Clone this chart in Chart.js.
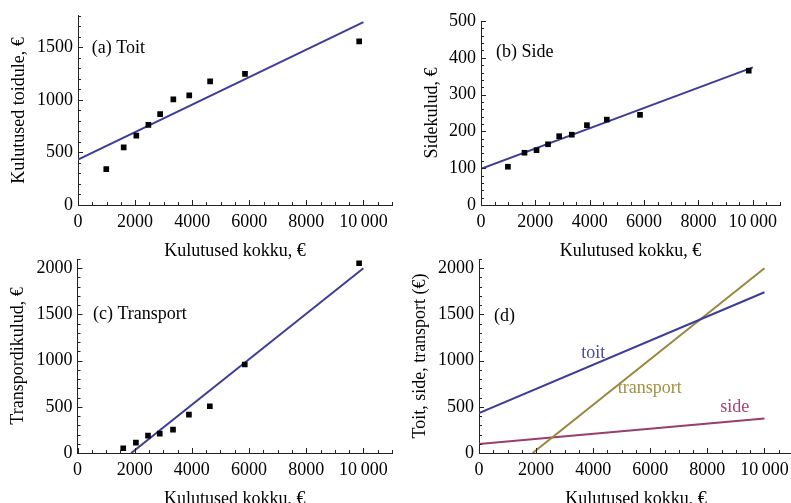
<!DOCTYPE html>
<html>
<head>
<meta charset="utf-8">
<script src="https://cdn.jsdelivr.net/npm/chart.js@4/dist/chart.umd.min.js"></script>
<style>
    html, body { margin: 0; padding: 0; background: #fff; overflow: hidden; width: 791px; height: 503px; }
    canvas { position: absolute; left: 0; top: 0; }
</style>
</head>
<body>
<canvas id="chartToit" width="800" height="520"></canvas>
<canvas id="chartSide" width="800" height="520"></canvas>
<canvas id="chartTransport" width="800" height="520"></canvas>
<canvas id="chartAll" width="800" height="520"></canvas>
<script>
// Leibkondade kulutused (€)

const totalSpend = [990, 1600, 2043, 2466, 2877, 3340, 3897, 4628, 5850, 9850];
const foodSpend = [342, 548, 660, 762, 865, 1005, 1043, 1176, 1248, 1556];
const sideSpend = [104, 142, 149, 165, 187, 191, 217, 232, 245, 365];
const transportSpend = [null, 51, 112, 188, 210, 253, 416, 506, 958, 2054];

// regression line end points
const fitX = [0, 10000];
const foodFit = [433, 1740];
const sideFit = [98, 374];
const transportFitX = [1880, 10000];
const transportFit = [0, 2000];

// tick labels
const xTicks = [0, 2000, 4000, 6000, 8000, 10000];
const foodTicks = [0, 500, 1000, 1500];
const sideTicks = [0, 100, 200, 300, 400, 500];
const transportTicks = [0, 500, 1000, 1500, 2000];

const FONT = "'Liberation Serif', 'Times New Roman', serif";
const BLUE = "#3d3d99";
const PURPLE = "#993d6b";
const OLIVE = "#99873d";

const CANVAS_W = 800;
const CANVAS_H = 520;

// ====================== HELPERS ======================

function points(xs, ys) {
    return xs.map((x, i) => ({ x: x, y: ys[i] })).filter(p => p.y !== null);
}

function tickLabel(v) {
    return v === 10000 ? "10\u2009000" : String(v);
}

// inward tick marks like Mathematica frames
const inwardTicks = {
    id: "inwardTicks",
    afterDraw(chart, args, opts) {
        const ctx = chart.ctx;
        const xs = chart.scales.x;
        const ys = chart.scales.y;
        ctx.save();
        ctx.strokeStyle = "#222";
        ctx.lineWidth = 1;
        ctx.beginPath();
        for (let v = xs.min; v <= xs.max + 0.001; v += opts.xMinor) {
            const px = Math.round(xs.getPixelForValue(v)) + 0.5;
            const len = v % opts.xMajor === 0 ? 5 : 3;
            ctx.moveTo(px, ys.bottom);
            ctx.lineTo(px, ys.bottom - len);
        }
        for (let v = ys.min; v <= ys.max + 0.001; v += opts.yMinor) {
            const py = Math.round(ys.getPixelForValue(v)) + 0.5;
            const len = v % opts.yMajor === 0 ? 5 : 3;
            ctx.moveTo(xs.left, py);
            ctx.lineTo(xs.left + len, py);
        }
        ctx.stroke();
        ctx.restore();
    }
};

// text labels placed in data coordinates
const textLabels = {
    id: "textLabels",
    afterDraw(chart, args, opts) {
        const ctx = chart.ctx;
        ctx.save();
        ctx.font = "18px " + FONT;
        ctx.textBaseline = "middle";
        (opts.items || []).forEach(item => {
            ctx.fillStyle = item.color || "#000";
            ctx.textAlign = item.align || "left";
            ctx.fillText(item.text,
                chart.scales.x.getPixelForValue(item.x),
                chart.scales.y.getPixelForValue(item.y));
        });
        ctx.restore();
    }
};

// ====================== CHARTS ======================

function makeChart(id, cfg) {
    const ctx = document.getElementById(id);
    const axisW = cfg.axisW;
    const axisH = 57;

    return new Chart(ctx, {
        type: "scatter",
        data: { datasets: cfg.datasets },
        plugins: [inwardTicks, textLabels],
        options: {
            responsive: false,
            animation: false,
            devicePixelRatio: 1,
            layout: {
                padding: {
                    left: cfg.area.left - axisW,
                    top: cfg.area.top,
                    right: CANVAS_W - cfg.area.right,
                    bottom: CANVAS_H - cfg.area.bottom - axisH
                }
            },
            plugins: {
                legend: { display: false },
                tooltip: { enabled: false },
                inwardTicks: cfg.ticks,
                textLabels: { items: cfg.labels }
            },
            scales: {
                x: {
                    type: "linear",
                    min: 0,
                    max: 11000,
                    afterBuildTicks: s => { s.ticks = xTicks.map(v => ({ value: v })); },
                    afterFit: s => { s.height = axisH; },
                    grid: { drawOnChartArea: false, drawTicks: false },
                    border: { display: true, color: "#222", width: 1 },
                    ticks: {
                        padding: 6,
                        maxRotation: 0,
                        autoSkip: false,
                        color: "#000",
                        font: { family: FONT, size: 18 },
                        callback: tickLabel
                    },
                    title: {
                        display: true,
                        text: "Kulutused kokku, €",
                        color: "#000",
                        font: { family: FONT, size: 18 },
                        padding: 0
                    }
                },
                y: {
                    type: "linear",
                    min: 0,
                    max: cfg.yMax,
                    afterBuildTicks: s => { s.ticks = cfg.yTicks.map(v => ({ value: v })); },
                    afterFit: s => { s.width = axisW; },
                    grid: { drawOnChartArea: false, drawTicks: false },
                    border: { display: true, color: "#222", width: 1 },
                    ticks: {
                        padding: 5,
                        autoSkip: false,
                        color: "#000",
                        font: { family: FONT, size: 18 },
                        callback: tickLabel
                    },
                    title: {
                        display: true,
                        text: cfg.yTitle,
                        color: "#000",
                        font: { family: FONT, size: 18 },
                        padding: 0
                    }
                }
            }
        }
    });
}

function scatterSet(ys) {
    return {
        data: points(totalSpend, ys),
        pointStyle: "rect",
        pointRadius: 4,
        backgroundColor: "#000",
        borderWidth: 0
    };
}

function lineSet(xs, ys, color) {
    return {
        data: points(xs, ys),
        showLine: true,
        borderColor: color,
        borderWidth: 2,
        pointRadius: 0
    };
}

makeChart("chartToit", {
    area: { left: 78, top: 12, right: 392, bottom: 205 },
    axisW: 70,
    yMax: 1800,
    yTicks: foodTicks,
    yTitle: "Kulutused toidule, €",
    ticks: { xMinor: 500, xMajor: 2000, yMinor: 100, yMajor: 500 },
    labels: [{ text: "(a) Toit", x: 480, y: 1491 }],
    datasets: [scatterSet(foodSpend), lineSet(fitX, foodFit, BLUE)]
});

makeChart("chartSide", {
    area: { left: 481, top: 21, right: 780, bottom: 205 },
    axisW: 60,
    yMax: 500,
    yTicks: sideTicks,
    yTitle: "Sidekulud, €",
    ticks: { xMinor: 500, xMajor: 2000, yMinor: 20, yMajor: 100 },
    labels: [{ text: "(b) Side", x: 553, y: 415 }],
    datasets: [scatterSet(sideSpend), lineSet(fitX, sideFit, BLUE)]
});

makeChart("chartTransport", {
    area: { left: 77.5, top: 259, right: 392, bottom: 453 },
    axisW: 70,
    yMax: 2100,
    yTicks: transportTicks,
    yTitle: "Transpordikulud, €",
    ticks: { xMinor: 500, xMajor: 2000, yMinor: 100, yMajor: 500 },
    labels: [{ text: "(c) Transport", x: 540, y: 1499 }],
    datasets: [scatterSet(transportSpend), lineSet(transportFitX, transportFit, BLUE)]
});

makeChart("chartAll", {
    area: { left: 479, top: 259, right: 793, bottom: 453 },
    axisW: 70,
    yMax: 2100,
    yTicks: transportTicks,
    yTitle: "Toit, side, transport (€)",
    ticks: { xMinor: 500, xMajor: 2000, yMinor: 100, yMajor: 500 },
    labels: [
        { text: "(d)", x: 525, y: 1475 },
        { text: "toit", x: 4000, y: 1078, color: "#4a4aa8", align: "center" },
        { text: "transport", x: 5985, y: 698, color: "#a0903f", align: "center" },
        { text: "side", x: 8960, y: 492, color: "#a3447a", align: "center" }
    ],
    datasets: [
        lineSet(fitX, foodFit, BLUE),
        lineSet(transportFitX, transportFit, OLIVE),
        lineSet(fitX, sideFit, PURPLE)
    ]
});
</script>
</body>
</html>
